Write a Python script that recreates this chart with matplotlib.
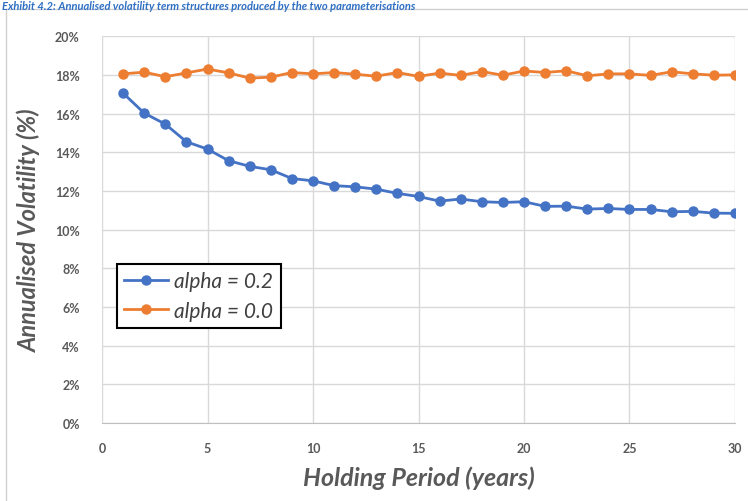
import numpy as np
import matplotlib as mpl
mpl.use("Agg")
import matplotlib.pyplot as plt
from matplotlib.patches import Rectangle
from matplotlib.ticker import FuncFormatter

years = list(range(1, 31))
vol_alpha_02 = [17.05, 16.02, 15.45, 14.54, 14.16, 13.56, 13.27, 13.09, 12.64, 12.52,
                12.27, 12.21, 12.09, 11.87, 11.71, 11.47, 11.58, 11.44, 11.40, 11.44,
                11.20, 11.21, 11.06, 11.09, 11.04, 11.04, 10.92, 10.94, 10.85, 10.84]
vol_alpha_00 = [18.05, 18.14, 17.90, 18.10, 18.30, 18.10, 17.83, 17.88, 18.12, 18.05,
                18.12, 18.03, 17.93, 18.12, 17.92, 18.09, 17.97, 18.17, 17.98, 18.20,
                18.12, 18.21, 17.95, 18.05, 18.05, 17.97, 18.16, 18.05, 17.98, 18.00]
labels = ["alpha = 0.2", "alpha = 0.0"]
title = "Exhibit 4.2: Annualised volatility term structures produced by the two parameterisations"

plt.rcParams['font.family'] = ['Lato', 'DejaVu Sans']
grey = "#595959"

fig = plt.figure(figsize=(7.48, 5.02), dpi=100)
ax = fig.add_axes([0.1364, 0.1554, 0.8462, 0.7706])

# outer chart frame and caption above it
fig.patches.append(Rectangle((6/748, -0.01), 1.0, 1 - 10/502 + 0.01, transform=fig.transFigure,
                             fill=False, edgecolor="#d0d0d0", linewidth=1.0))
fig.text(0.003, 0.999, title, color="#2e6fc4", fontsize=8, style="italic",
         fontweight="bold", va="top", ha="left")

ax.plot(years, vol_alpha_02, color="#4472c4", marker="o", markersize=6.5,
        linewidth=2, label=labels[0])
ax.plot(years, vol_alpha_00, color="#ed7d31", marker="o", markersize=6.5,
        linewidth=2, label=labels[1])

ax.set_xlim(0, 30)
ax.set_ylim(0, 20)
ax.set_xticks(range(0, 31, 5))
ax.set_yticks(range(0, 21, 2))
ax.yaxis.set_major_formatter(FuncFormatter(lambda v, p: f"{int(v)}%"))
ax.grid(True, color="#d9d9d9", linewidth=1)
ax.set_axisbelow(True)
for s in ["top", "right", "left"]:
    ax.spines[s].set_visible(False)
ax.spines["bottom"].set_color("#bfbfbf")
ax.tick_params(length=0, colors=grey, labelsize=9)
ax.tick_params(axis="x", pad=14)
ax.tick_params(axis="y", pad=16)
for t in ax.get_xticklabels() + ax.get_yticklabels():
    t.set_fontweight("bold")

ax.set_xlabel("Holding Period (years)", fontsize=18, fontweight="bold", style="italic",
              color=grey, labelpad=8)
ax.set_ylabel("Annualised Volatility (%)", fontsize=17, fontweight="bold", style="italic",
              color=grey, labelpad=10)

leg = ax.legend(loc="upper left", bbox_to_anchor=(0.0237, 0.411),
                prop={"style": "italic", "size": 15}, fancybox=False, framealpha=1,
                edgecolor="black", borderpad=0.35, handlelength=2.1, handletextpad=0.3,
                labelspacing=0.45, borderaxespad=0)
leg.get_frame().set_linewidth(1.5)
for t in leg.get_texts():
    t.set_color("#404040")

fig.savefig("out.png", dpi=100)
